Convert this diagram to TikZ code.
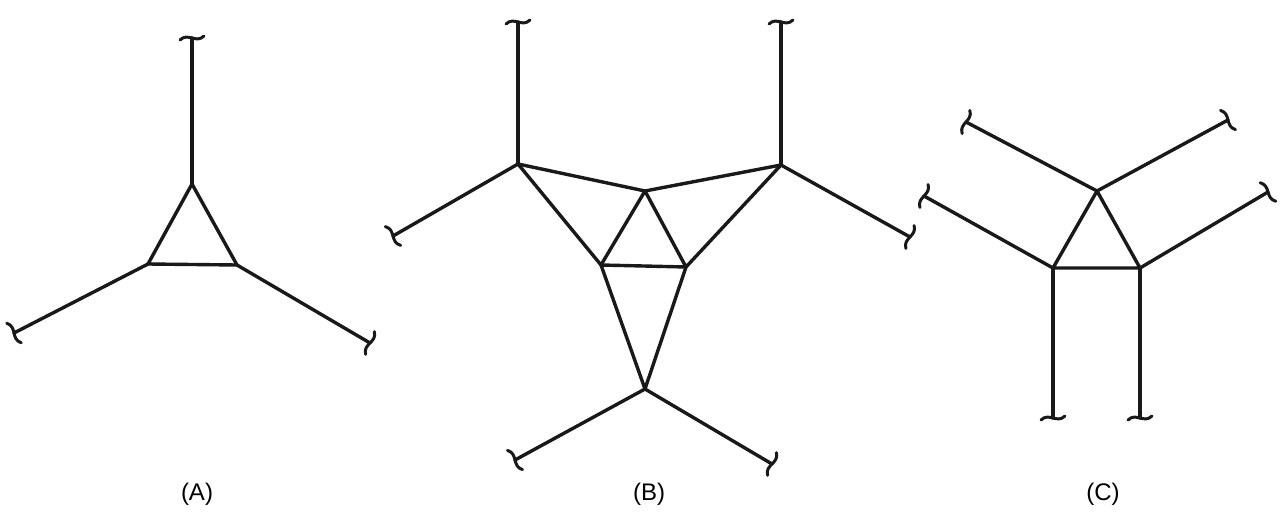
\documentclass[tikz,border=0pt]{standalone}
\usepackage{fontspec}
\setmainfont{Liberation Sans}
\tikzset{
  edge/.style={line width=3.4pt, line cap=round, line join=round, black!90},
  lbl/.style={font=\fontsize{24}{28}\selectfont, inner sep=0pt},
  brk/.pic={\draw[line width=3pt, line cap=round, black!90] (-2,-12) .. controls (6,-4) and (-6,4) .. (2,12);}
}
\newcommand\arm[2]{\draw[edge] (#1) -- (#2) pic[pos=1, sloped, allow upside down] {brk};}
\begin{document}
\begin{tikzpicture}[x=1pt,y=-1pt]
\useasboundingbox (0,0) rectangle (1285,516);
% ---------- (A)
\coordinate (A1) at (192,184);
\coordinate (A2) at (148,264);
\coordinate (A3) at (237,265);
\coordinate (At) at (192,38);
\coordinate (Al) at (14,333);
\coordinate (Ar) at (370,343);
\draw[edge] (A1) -- (A2) -- (A3) -- cycle;
\arm{A1}{At}
\arm{A2}{Al}
\arm{A3}{Ar}
\node[lbl] (LA) at (197,494) {(A)};
% ---------- (B)
\coordinate (Bl) at (518,164);
\coordinate (Br) at (781,165);
\coordinate (Bc) at (645,191);
\coordinate (B1) at (601,265);
\coordinate (B2) at (686,267);
\coordinate (Bb) at (645,389);
\coordinate (Btl) at (518,22);
\coordinate (Btr) at (781,22);
\coordinate (Bel) at (393,236);
\coordinate (Ber) at (910,237);
\coordinate (Bbl) at (515,460);
\coordinate (Bbr) at (772,464);
\draw[edge] (Bl) -- (Bc) -- (Br);
\draw[edge] (Bl) -- (B1) -- (B2) -- (Br);
\draw[edge] (B1) -- (Bc) -- (B2);
\draw[edge] (B1) -- (Bb) -- (B2);
\arm{Bl}{Btl}
\arm{Br}{Btr}
\arm{Bl}{Bel}
\arm{Br}{Ber}
\arm{Bb}{Bbl}
\arm{Bb}{Bbr}
\node[lbl] (LB) at (649,494) {(B)};
% ---------- (C)
\coordinate (C1) at (1097,191);
\coordinate (C2) at (1053,268);
\coordinate (C3) at (1140,268);
\coordinate (Cul) at (966,122);
\coordinate (Cur) at (1228,120);
\coordinate (Cll) at (924,196);
\coordinate (Crr) at (1268,192);
\coordinate (Cbl) at (1053,418);
\coordinate (Cbr) at (1140,418);
\draw[edge] (C1) -- (C2) -- (C3) -- cycle;
\arm{C1}{Cul}
\arm{C1}{Cur}
\arm{C2}{Cll}
\arm{C3}{Crr}
\arm{C2}{Cbl}
\arm{C3}{Cbr}
\node[lbl] (LC) at (1103,494) {(C)};
\end{tikzpicture}
\end{document}
